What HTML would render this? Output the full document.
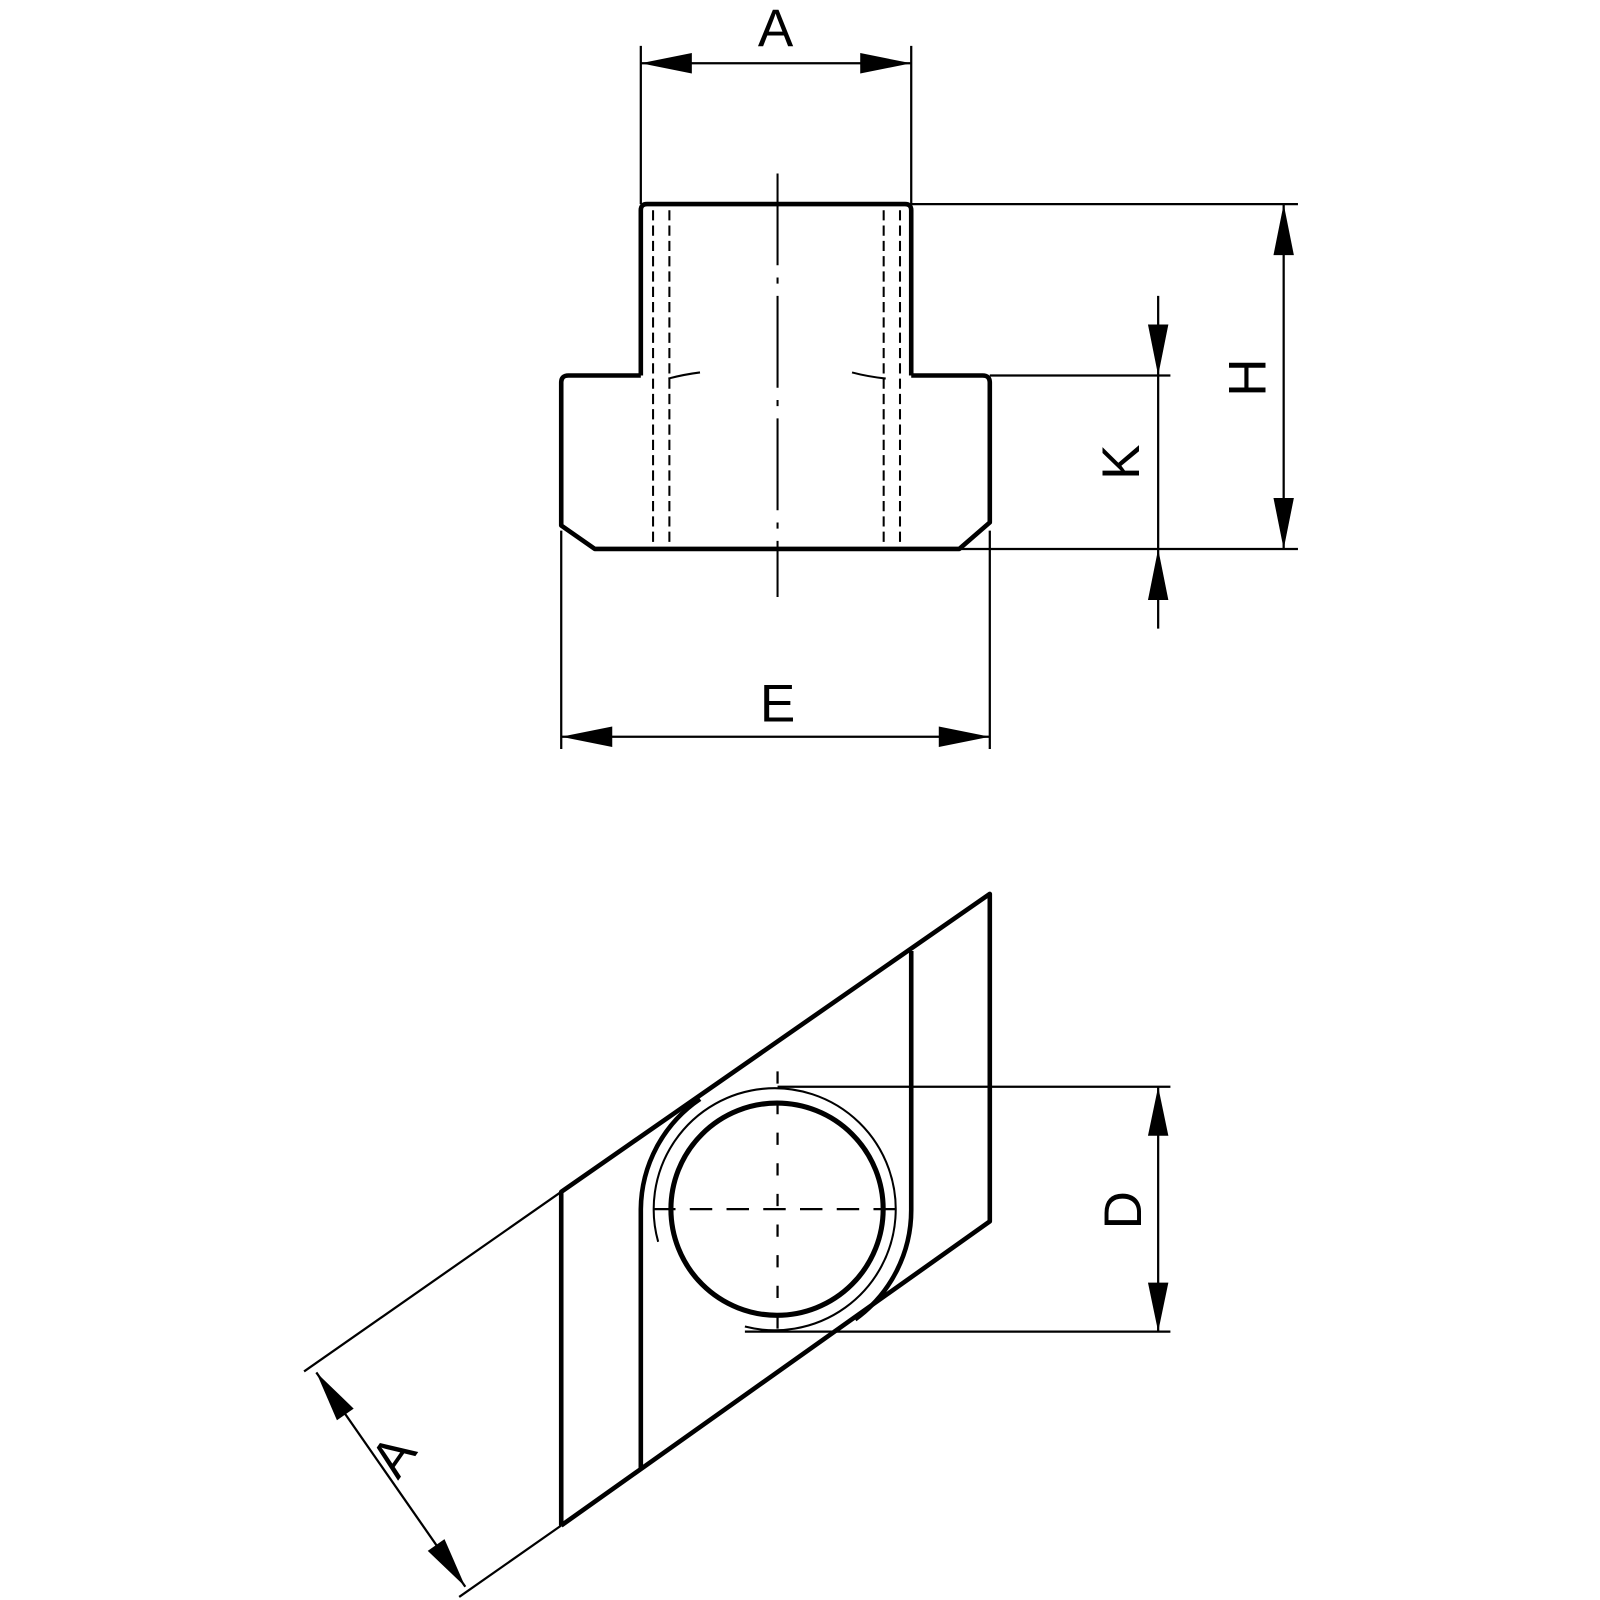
<!DOCTYPE html>
<html><head><meta charset="utf-8"><style>html,body{margin:0;padding:0;background:#fff}svg{display:block}</style></head>
<body>
<svg width="1600" height="1600" viewBox="0 0 1568 1568" xmlns="http://www.w3.org/2000/svg" font-family="Liberation Sans, sans-serif">
<g fill="none" stroke="#000" stroke-linejoin="round">
<!-- top view -->
<path d="M628,368 L628,206 Q628,200 634,200 L887,200 Q893,200 893,206 L893,368" stroke-width="4.5"/>
<path d="M628,368 L557,368 Q550,368 550,375 L550,515 L583,538 L940,538 L970,512 L970,375 Q970,368 963,368 L893,368" stroke-width="4.5"/>
<g stroke-width="2" stroke-dasharray="10,5">
<line x1="640" y1="206" x2="640" y2="538"/><line x1="656" y1="206" x2="656" y2="538"/>
<line x1="866" y1="206" x2="866" y2="538"/><line x1="882" y1="206" x2="882" y2="538"/>
</g>
<path d="M655,371 Q670,367 686,365" stroke-width="2"/>
<path d="M835,365 Q850,369 868,371" stroke-width="2"/>
<line x1="762" y1="170" x2="762" y2="585" stroke-width="2" stroke-dasharray="90,12,6,12"/>
<g stroke-width="2.2">
<line x1="628" y1="45" x2="628" y2="200"/><line x1="893" y1="45" x2="893" y2="200"/>
<line x1="628" y1="62" x2="893" y2="62"/>
<line x1="893" y1="200" x2="1272" y2="200"/><line x1="940" y1="538" x2="1272" y2="538"/>
<line x1="970" y1="368" x2="1147" y2="368"/>
<line x1="550" y1="520" x2="550" y2="734"/><line x1="970" y1="520" x2="970" y2="734"/>
<line x1="550" y1="722" x2="970" y2="722"/>
<line x1="1258" y1="200" x2="1258" y2="538"/>
<line x1="1135" y1="290" x2="1135" y2="616"/>
</g>
</g>
<g fill="#000">
<path d="M628,62 L678,52 L678,72 Z"/><path d="M893,62 L843,52 L843,72 Z"/>
<path d="M550,722 L600,712 L600,732 Z"/><path d="M970,722 L920,712 L920,732 Z"/>
<path d="M1258,200 L1248,250 L1268,250 Z"/><path d="M1258,538 L1248,488 L1268,488 Z"/>
<path d="M1135,368 L1125,318 L1145,318 Z"/><path d="M1135,538 L1125,588 L1145,588 Z"/>
<path d="M1135,1065 L1125,1113 L1145,1113 Z"/><path d="M1135,1305 L1125,1257 L1145,1257 Z"/>
</g>
<g font-size="52" fill="#000" text-anchor="middle">
<text x="760" y="45">A</text>
<text x="762" y="707">E</text>
<text transform="translate(1240,370) rotate(-90)">H</text>
<text transform="translate(1116,453) rotate(-90)">K</text>
<text transform="translate(1118,1186) rotate(-90)">D</text>
<text transform="translate(400,1437) rotate(-55)">A</text>
</g>
<!-- bottom view -->
<g fill="none" stroke="#000" stroke-linejoin="round">
<path d="M550,1495 L550,1168 L970,876 L970,1197 L550,1495" stroke-width="4.5"/>
<path d="M893,932 L893,1185 A132,132 0 0 1 838,1293" stroke-width="4.5"/>
<path d="M628,1440 L628,1185 A132,132 0 0 1 686,1077" stroke-width="4.5"/>
<circle cx="761.5" cy="1185" r="104" stroke-width="5"/>
<path d="M645,1217 A118.6,118.6 0 1 1 730,1300" stroke-width="2"/>
<g stroke-width="2.2">
<line x1="762" y1="1050" x2="762" y2="1320" stroke-dasharray="12,18"/>
<line x1="640" y1="1185" x2="890" y2="1185" stroke-dasharray="22,14"/>
<line x1="762" y1="1065" x2="1147" y2="1065"/>
<line x1="730" y1="1305" x2="1147" y2="1305"/>
<line x1="1135" y1="1065" x2="1135" y2="1305"/>
<line x1="550" y1="1168" x2="298" y2="1344"/>
<line x1="550" y1="1495" x2="450" y2="1565"/>
<line x1="310" y1="1345" x2="456" y2="1555"/>
</g>
</g>
<g fill="#000">
<path d="M310,1345 L346.6,1380.4 L330.2,1391.8 Z"/><path d="M456,1555 L435.6,1508.4 L419.2,1519.8 Z"/>
</g>
</svg>
</body></html>
